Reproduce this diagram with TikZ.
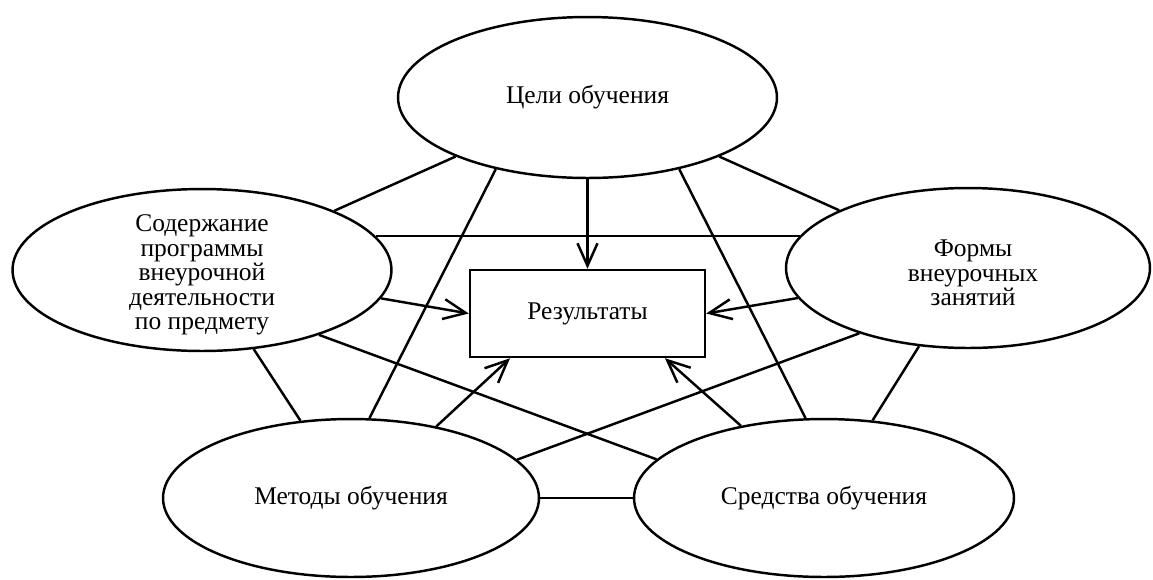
\documentclass[tikz,border=0pt]{standalone}
\usepackage{fontspec}
\setmainfont{Liberation Serif}
\usetikzlibrary{shapes.geometric,arrows.meta}

\tikzset{
	oval/.style={draw, ellipse, line width=1.4pt, inner sep=0pt},
	resbox/.style={draw, rectangle, line width=1.4pt, minimum width=4.7cm, minimum height=1.74cm},
	link/.style={line width=1.4pt},
	arr/.style={line width=1.4pt, -{Straight Barb[length=4.5mm,width=4mm]}},
	txt/.style={align=center, inner sep=0pt}
}

\begin{document}
\begin{tikzpicture}[x=0.02cm, y=-0.02cm, font=\fontsize{14.5pt}{13.9pt}\selectfont]
				\useasboundingbox (0,0) rectangle (1153,579);
				\coordinate (c1) at (587.5,97.5);%цели
				\coordinate (c2) at (202,270);%содержание
				\coordinate (c3) at (968,268);%формы
				\coordinate (c4) at (351,498);%методы
				\coordinate (c5) at (824,498);%средства
				\coordinate (c6) at (587.5,313.5);%результаты
				
				\node[oval, minimum width=7.58cm, minimum height=3.22cm] (goal) at (c1) {Цели обучения};
				\node[oval, minimum width=7.58cm, minimum height=3.24cm] (cont) at (c2) {};
				\node[txt] (contl) at (202,275) {Содержание\\программы\\внеурочной\\деятельности\\по предмету};
				\node[oval, minimum width=7.28cm, minimum height=3.2cm] (form) at (c3) {};
				\node[txt] (forml) at (973,273) {Формы\\внеурочных\\занятий};
				\node[oval, minimum width=7.52cm, minimum height=3.16cm] (meth) at (c4) {Методы обучения};
				\node[oval, minimum width=7.6cm, minimum height=3.16cm] (tool) at (c5) {Средства обучения};
				\node[resbox] (resl) at (c6) {Результаты};
				
				\draw[link] (goal) -- (cont);
				\draw[link] (goal) -- (form);
				\draw[link] (goal.218) -- (meth.77);
				\draw[link] (goal.322) -- (tool.103);
				\draw[link] (cont.11) -- (cont.11 -| form.169);
				\draw[link] (cont) -- (meth);
				\draw[link] (cont.331) -- (tool.167);
				\draw[link] (meth.13) -- (form.211);
				\draw[link] (tool) -- (form);
				\draw[link] (meth) -- (tool);
				
				\draw[arr] (goal) -- (resl);
				\draw[arr] (cont.351) -- (resl.west);
				\draw[arr] (form.190) -- (resl.east);
				\draw[arr] (meth.40) -- (resl.210);
				\draw[arr] (tool.139) -- (resl.330);
			\end{tikzpicture}
\end{document}
